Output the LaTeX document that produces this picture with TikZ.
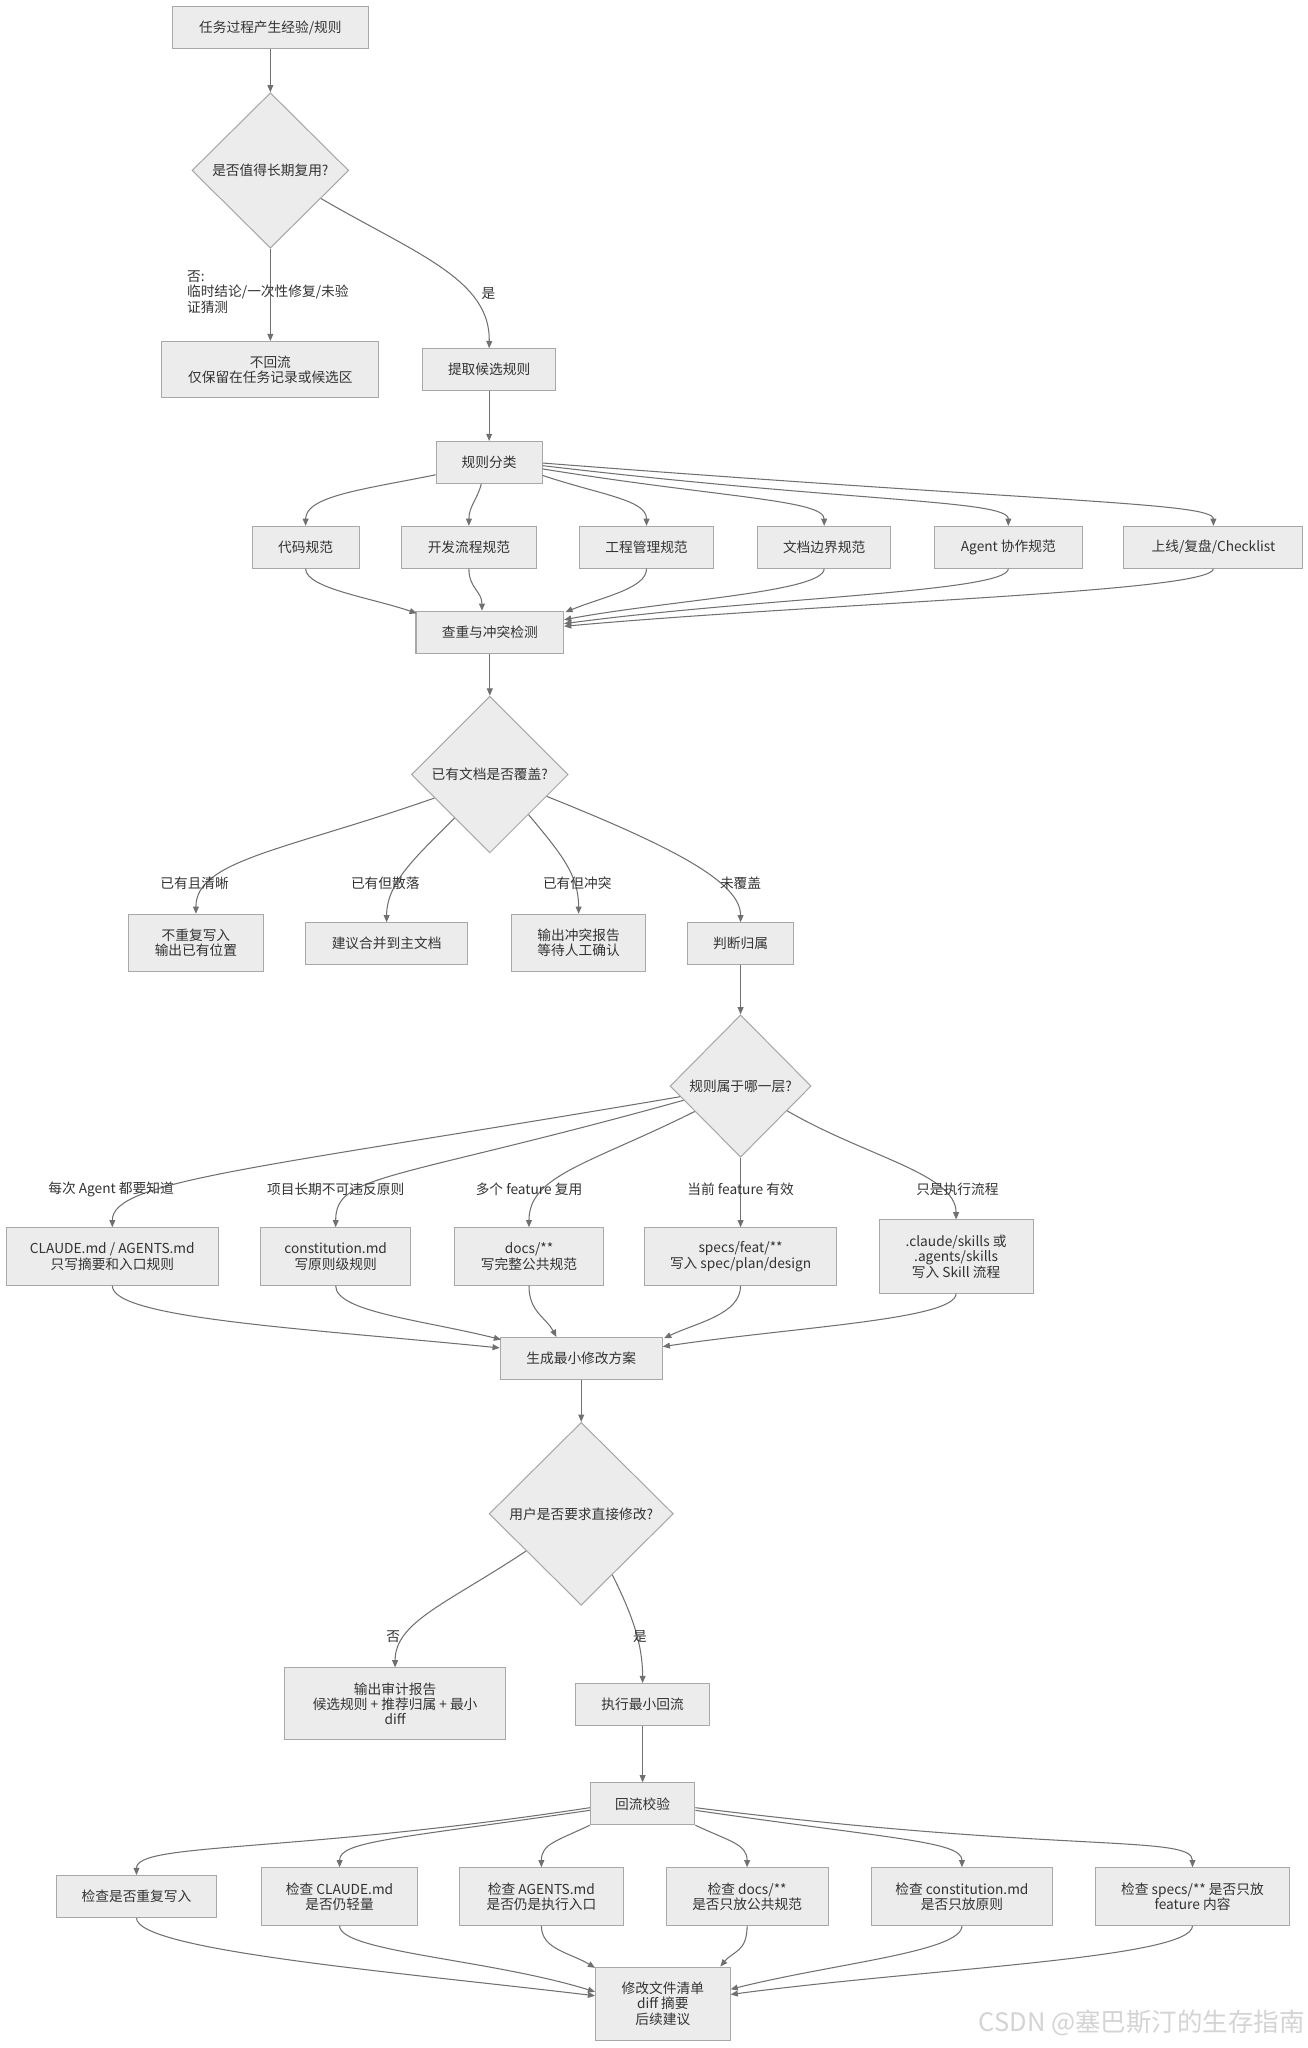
\documentclass[tikz,border=0pt]{standalone}
\usepackage{fontspec}
\setmainfont{Noto Sans CJK SC}
\usetikzlibrary{shapes.geometric,arrows.meta,calc}
\definecolor{boxfill}{HTML}{ECECEC}
\definecolor{boxline}{HTML}{A8A8A8}
\definecolor{edgecol}{HTML}{707070}
\definecolor{txt}{HTML}{333333}
\definecolor{wmark}{HTML}{D4D4D4}
\begin{document}
\begin{tikzpicture}[x=1pt,y=-1pt,
  font=\fontsize{10.5pt}{11.8pt}\selectfont, text=txt,
  nbox/.style={draw=boxline, fill=boxfill, line width=0.8pt, inner sep=0pt, align=center, minimum height=32pt},
  dia/.style={diamond, draw=boxline, fill=boxfill, line width=0.8pt, inner sep=0pt, align=center},
  lbl/.style={inner sep=0pt, align=center},
  conn/.style={draw=edgecol, line width=0.8pt, -{Triangle[length=5.5pt,width=4.5pt]}}]
\path[fill=white, use as bounding box] (0,0) rectangle (1001,1568);

% ---------- nodes ----------
\node[nbox, minimum width=150pt] (n1) at (207,21) {任务过程产生经验/规则};
\node[dia, minimum width=120pt, minimum height=119pt] (d1) at (207,130.5) {是否值得长期复用?};
\node[nbox, minimum width=166pt, minimum height=43pt] (n3) at (207,283) {不回流\\仅保留在任务记录或候选区};
\node[nbox, minimum width=102pt] (n4) at (374.5,283) {提取候选规则};
\node[nbox, minimum width=81pt] (n5) at (374.5,354) {规则分类};

\node[nbox, minimum width=82pt] (c1) at (234,419) {代码规范};
\node[nbox, minimum width=103pt] (c2) at (359,419) {开发流程规范};
\node[nbox, minimum width=103pt] (c3) at (495,419) {工程管理规范};
\node[nbox, minimum width=102pt] (c4) at (631,419) {文档边界规范};
\node[nbox, minimum width=113pt] (c5) at (772,419) {Agent 协作规范};
\node[nbox, minimum width=137pt] (c6) at (929,419) {上线/复盘/Checklist};

\node[nbox, minimum width=113pt] (n7) at (375,484) {查重与冲突检测};
\node[dia, minimum width=120pt, minimum height=120pt] (d2) at (375,593) {已有文档是否覆盖?};

\node[nbox, minimum width=103pt, minimum height=44pt] (r1) at (150,722) {不重复写入\\输出已有位置};
\node[nbox, minimum width=124pt] (r2) at (296,722.5) {建议合并到主文档};
\node[nbox, minimum width=103pt, minimum height=44pt] (r3) at (443,722) {输出冲突报告\\等待人工确认};
\node[nbox, minimum width=81pt] (r4) at (567,722.5) {判断归属};

\node[dia, minimum width=108pt, minimum height=109pt] (d3) at (567,831.5) {规则属于哪一层?};

\node[nbox, minimum width=162pt, minimum height=44pt] (s1) at (86,962) {CLAUDE.md / AGENTS.md\\只写摘要和入口规则};
\node[nbox, minimum width=115pt, minimum height=44pt] (s2) at (257,962) {constitution.md\\写原则级规则};
\node[nbox, minimum width=114pt, minimum height=44pt] (s3) at (405,962) {docs/**\\写完整公共规范};
\node[nbox, minimum width=147pt, minimum height=44pt] (s4) at (567,962) {specs/feat/**\\写入 spec/plan/design};
\node[nbox, minimum width=118pt, minimum height=56pt] (s5) at (732,962) {.claude/skills 或\\.agents/skills\\写入 Skill 流程};

\node[nbox, minimum width=124pt] (n12) at (445,1040) {生成最小修改方案};
\node[dia, minimum width=141pt, minimum height=140pt] (d4) at (445,1159) {用户是否要求直接修改?};

\node[nbox, minimum width=169pt, minimum height=55pt] (t1) at (302.5,1304.5) {输出审计报告\\候选规则 + 推荐归属 + 最小\\diff};
\node[nbox, minimum width=103pt] (t2) at (492,1305) {执行最小回流};
\node[nbox, minimum width=80pt] (n16) at (492,1381) {回流校验};

\node[nbox, minimum width=123pt] (k1) at (104.5,1452) {检查是否重复写入};
\node[nbox, minimum width=119pt, minimum height=44pt] (k2) at (260,1452) {检查 CLAUDE.md\\是否仍轻量};
\node[nbox, minimum width=125pt, minimum height=44pt] (k3) at (414.5,1452) {检查 AGENTS.md\\是否仍是执行入口};
\node[nbox, minimum width=124pt, minimum height=44pt] (k4) at (572,1452) {检查 docs/**\\是否只放公共规范};
\node[nbox, minimum width=139pt, minimum height=44pt] (k5) at (736.5,1452) {检查 constitution.md\\是否只放原则};
\node[nbox, minimum width=148pt, minimum height=44pt] (k6) at (913,1452) {检查 specs/** 是否只放\\feature 内容};

\node[nbox, minimum width=103pt, minimum height=56pt] (n18) at (507.5,1534) {修改文件清单\\diff 摘要\\后续建议};

% ---------- edges: top ----------
\draw[conn] (n1.south) -- (d1.north);
\draw[conn] (d1.south) -- (n3.north);
\draw[conn] (d1.-29) .. controls +(72,42) and +(1,-53) .. (n4.north);
\node[lbl, anchor=north west, align=left] (l1) at (143,207) {否:\\临时结论/一次性修复/未验\\证猜测};
\node[lbl] (l2) at (374,225) {是};
\draw[conn] (n4.south) -- (n5.south |- n5.north);

% ---------- classification ----------
\draw[conn] ($(n5.west)+(0,9.5)$) .. controls +(-54,11) and +(0,-23) .. (c1.north);
\draw[conn] ($(n5.south)+(-6,0)$) .. controls +(-3,12) and +(0,-15) .. (c2.north);
\draw[conn] ($(n5.east)+(0,10)$) .. controls +(45,15) and +(0,-20) .. (c3.north);
\draw[conn] ($(n5.east)+(0,5)$) .. controls +(136,22) and +(0,-20) .. (c4.north);
\draw[conn] ($(n5.east)+(0,2.5)$) .. controls +(236,28) and +(0,-20) .. (c5.north);
\draw[conn] ($(n5.east)+(0,0.5)$) .. controls +(386,30) and +(0,-18) .. (c6.north);

\draw[conn] (c1.south) .. controls +(0,15) and +(-35,-12) .. ($(n7.north west)+(1,2)$);
\draw[conn] (c2.south) .. controls +(0,15) and +(0,-15) .. ($(n7.north)+(-6,0)$);
\draw[conn] (c3.south) .. controls +(0,15) and +(30,-12) .. ($(n7.north east)+(1,1)$);
\draw[conn] (c4.south) .. controls +(0,18) and +(80,-15) .. ($(n7.east)+(0,-9.5)$);
\draw[conn] (c5.south) .. controls +(0,18) and +(150,-20) .. ($(n7.east)+(0,-6.5)$);
\draw[conn] (c6.south) .. controls +(0,18) and +(200,-18) .. ($(n7.east)+(0,-4.5)$);

\draw[conn] (n7.south) -- (d2.north);

% ---------- coverage ----------
\draw[conn] (d2.-157) .. controls +(-114,40) and +(0,-41) .. (r1.north);
\draw[conn] (d2.-129) .. controls +(-30,30) and +(0,-30) .. (r2.north);
\draw[conn] (d2.-46) .. controls +(25,30) and +(0,-30) .. (r3.north);
\draw[conn] (d2.-21) .. controls +(100,40) and +(0,-30) .. (r4.north);
\node[lbl] (l3) at (149,676.5) {已有且清晰};
\node[lbl] (l4) at (295,676.5) {已有但散落};
\node[lbl] (l5) at (442,676.5) {已有但冲突};
\node[lbl] (l6) at (567,676.5) {未覆盖};

\draw[conn] (r4.south) -- (d3.north);

% ---------- layer ----------
\draw[conn] (d3.-170) .. controls +(-323,55) and +(0,-36) .. (s1.north);
\draw[conn] (d3.-166) .. controls +(-223,62) and +(0,-41) .. (s2.north);
\draw[conn] (d3.-151.5) .. controls +(-80,40) and +(0,-40) .. (s3.north);
\draw[conn] (d3.south) -- (s4.north);
\draw[conn] (d3.-28.5) .. controls +(60,35) and +(0,-35) .. (s5.north);
\node[lbl] (l7) at (85,910.5) {每次 Agent 都要知道};
\node[lbl] (l8) at (257,910.5) {项目长期不可违反原则};
\node[lbl] (l9) at (405,910.5) {多个 feature 复用};
\node[lbl] (l10) at (567,910.5) {当前 feature 有效};
\node[lbl] (l11) at (733,910.5) {只是执行流程};

\draw[conn] (s1.south) .. controls +(0,25) and +(-150,-15) .. ($(n12.west)+(0,-8)$);
\draw[conn] (s2.south) .. controls +(0,20) and +(-60,-15) .. ($(n12.north west)+(1,2)$);
\draw[conn] (s3.south) .. controls +(0,20) and +(-8,-15) .. ($(n12.north)+(-19,0)$);
\draw[conn] (s4.south) .. controls +(0,22) and +(25,-12) .. ($(n12.north east)+(1,1)$);
\draw[conn] (s5.south) .. controls +(0,20) and +(100,-15) .. ($(n12.east)+(0,-9)$);

\draw[conn] (n12.south) -- (d4.north);

% ---------- user decision ----------
\draw[conn] (d4.-146) .. controls +(-60,40) and +(0,-35) .. (t1.north);
\draw[conn] (d4.-63.4) .. controls +(15,30) and +(0,-30) .. (t2.north);
\node[lbl] (l12) at (301,1253) {否};
\node[lbl] (l13) at (490,1253) {是};

\draw[conn] (t2.south) -- (n16.north);

% ---------- checks ----------
\draw[conn] ($(n16.west)+(0,3)$) .. controls +(-230,35) and +(0,-25) .. (k1.north);
\draw[conn] ($(n16.west)+(0,5)$) .. controls +(-150,22) and +(0,-20) .. (k2.north);
\draw[conn] (n16.south west) .. controls +(-25,12) and +(0,-18) .. (k3.north);
\draw[conn] (n16.south east) .. controls +(25,12) and +(0,-18) .. (k4.north);
\draw[conn] ($(n16.east)+(0,5)$) .. controls +(150,22) and +(0,-20) .. (k5.north);
\draw[conn] ($(n16.east)+(0,3)$) .. controls +(280,35) and +(0,-25) .. (k6.north);

\draw[conn] (k1.south) .. controls +(0,25) and +(-150,-18) .. ($(n18.west)+(0,-6)$);
\draw[conn] (k2.south) .. controls +(0,20) and +(-80,-25) .. ($(n18.west)+(0,-9)$);
\draw[conn] (k3.south) .. controls +(0,18) and +(-20,-12) .. ($(n18.north west)+(0,1)$);
\draw[conn] (k4.south) .. controls +(0,20) and +(10,-12) .. ($(n18.north)+(44,0)$);
\draw[conn] (k5.south) .. controls +(0,20) and +(80,-20) .. ($(n18.east)+(0,-11)$);
\draw[conn] (k6.south) .. controls +(0,25) and +(150,-20) .. ($(n18.east)+(0,-7)$);

% ---------- watermark ----------
\node[lbl, anchor=east, text=wmark, font=\fontsize{19.5pt}{20pt}\selectfont] (wm) at (999,1549) {CSDN @塞巴斯汀的生存指南};
\end{tikzpicture}
\end{document}
